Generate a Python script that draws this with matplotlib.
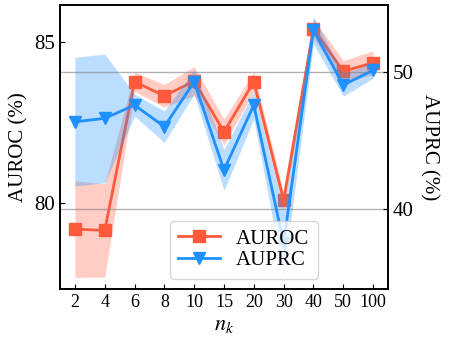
import matplotlib
matplotlib.use('Agg')
import matplotlib.pyplot as plt
import numpy as np

plt.rcParams['font.family'] = 'serif'
plt.rcParams['font.serif'] = ['Liberation Serif', 'DejaVu Serif']
plt.rcParams['mathtext.fontset'] = 'stix'
plt.rcParams['axes.linewidth'] = 1.2

n_k = ['2', '4', '6', '8', '10', '15', '20', '30', '40', '50', '100']
auroc = [79.2, 79.16, 83.78, 83.34, 83.8, 82.22, 83.78, 80.1, 85.43, 84.1, 84.37]
auroc_std = [1.5, 1.45, 0.3, 0.35, 0.45, 0.4, 0.3, 0.25, 0.3, 0.34, 0.37]
auprc = [46.35, 46.6, 47.57, 45.99, 49.27, 42.83, 47.57, 37.5, 53.04, 49.03, 50.12]
auprc_std = [4.7, 4.7, 0.8, 1.15, 0.9, 1.5, 1.0, 2.5, 1.0, 0.8, 0.6]

red = '#FF5A3C'
blue = '#1E90FF'

x = np.arange(len(n_k))
auroc = np.array(auroc)
auroc_std = np.array(auroc_std)
auprc = np.array(auprc)
auprc_std = np.array(auprc_std)

fig = plt.figure(figsize=(4.49, 3.42), dpi=100)
ax = fig.add_axes([0.1336, 0.155, 0.7305, 0.83])
ax2 = ax.twinx()

ax.fill_between(x, auroc - auroc_std, auroc + auroc_std, color=red, alpha=0.3, lw=0)
l1, = ax.plot(x, auroc, color=red, marker='s', markersize=8, lw=2, label='AUROC')

ax2.fill_between(x, auprc - auprc_std, auprc + auprc_std, color=blue, alpha=0.3, lw=0)
l2, = ax2.plot(x, auprc, color=blue, marker='v', markersize=8, lw=2, label='AUPRC')

ax.set_xlim(-0.5, 10.5)
ax.set_ylim(77.34, 86.16)
ax2.set_ylim(34.14, 54.87)
ax.set_xticks(x)
ax.set_xticklabels(n_k)
ax.set_yticks([80, 85])
ax2.set_yticks([40, 50])
ax2.grid(axis='y', color='gray', alpha=0.6, lw=1)

ax.tick_params(direction='in')
ax2.tick_params(direction='in', labelsize=15)
ax.tick_params(axis='y', labelsize=15)
ax.tick_params(axis='x', labelsize=13)

ax.set_xlabel('$n_k$', fontsize=16)
ax.set_ylabel('AUROC (%)', fontsize=15)
ax2.set_ylabel('AUPRC (%)', fontsize=15, rotation=270, labelpad=18)

ax2.legend([l1, l2], ['AUROC', 'AUPRC'], loc='lower center', bbox_to_anchor=(0.56, 0.0),
           fontsize=15, handlelength=2.0, labelspacing=0.1)

fig.savefig('out.png', dpi=100)
